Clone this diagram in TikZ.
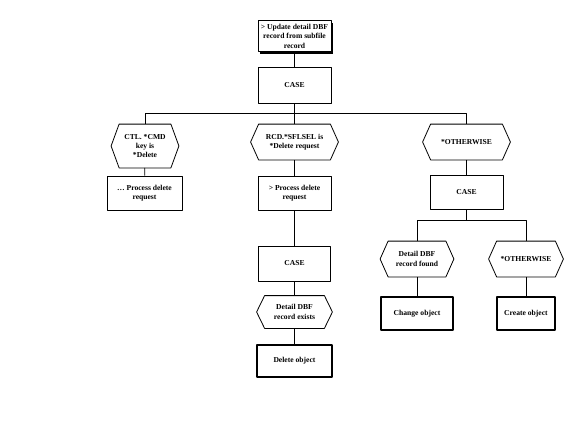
\documentclass[tikz,border=0pt]{standalone}
\usepackage{fontspec}
\setmainfont{Liberation Serif}
\usetikzlibrary{shadows}
\begin{document}
\begin{tikzpicture}[x=1pt,y=-1pt,line join=bevel,line width=0.8pt,
  every node/.style={font=\fontsize{7.6}{9.4}\selectfont\bfseries,align=center,inner sep=0pt},
  actbox/.style={draw,minimum width=#1,minimum height=34pt},
  objbox/.style={draw,line width=2.4pt,minimum width=#1,minimum height=32pt},
  condbox/.style={draw=none,minimum width=#1,minimum height=35pt},
  shadowbox/.style={draw,fill=white,minimum width=73pt,minimum height=31pt,
    drop shadow={shadow xshift=2pt,shadow yshift=-2pt,fill=black,opacity=1}}]
%%
  \useasboundingbox (0,0) rectangle (581,447);

  \node (node_0) at (294.5,36) [shadowbox] {> Update detail DBF\\record from subfile\\record};

  \node (node_1) at (294.5,85) [actbox=73pt,minimum height=36pt] {CASE};

  \node (node_2) at (145,146) [condbox=67pt,minimum height=43pt] {CTL. *CMD\\key is\\*Delete};
  \node (node_3) at (294.5,142) [condbox=87pt] {RCD.*SFLSEL is\\*Delete request};
  \node (node_4) at (466.5,142) [condbox=87pt] {*OTHERWISE};

  \node (node_5) at (144.5,193) [actbox=75pt] {\dots\ Process delete\\request};
  \node (node_6) at (294.5,193) [actbox=73pt] {> Process delete\\request};
  \node (node_7) at (466.5,192) [actbox=73pt] {CASE};

  \node (node_8) at (294.5,263.5) [actbox=72pt,minimum height=35pt] {CASE};
  \node (node_9) at (294.5,312) [condbox=75pt,minimum height=32pt] {Detail DBF\\record exists};
  \node (node_10) at (294.5,361) [objbox=75pt] {Delete object};

  \node (node_11) at (417,259) [condbox=73pt] {Detail DBF\\record found};
  \node (node_12) at (526,259) [condbox=74pt] {*OTHERWISE};

  \node (node_13) at (417,313.5) [objbox=72pt,minimum height=33pt] {Change object};
  \node (node_14) at (526,313.5) [objbox=58pt,minimum height=33pt] {Create object};

  \coordinate (split_1) at (294.5,113);
  \coordinate (split_2) at (466.5,220);

  % hexagons round the conditions
  \foreach \n in {node_2,node_3,node_4,node_9,node_11,node_12}
    \draw (\n.west) -- ([xshift=8pt]\n.north west) -- ([xshift=-8pt]\n.north east)
      -- (\n.east) -- ([xshift=-8pt]\n.south east) -- ([xshift=8pt]\n.south west) -- cycle;

  \draw (node_0) -- (node_1);
  \draw (node_1) -- (split_1);
  \draw (split_1) -| (node_2);
  \draw (split_1) -- (node_3);
  \draw (split_1) -| (node_4);
  \draw (node_2) -- (node_5);
  \draw (node_3) -- (node_6);
  \draw (node_4) -- (node_7);
  \draw (node_6) -- (node_8);
  \draw (node_8) -- (node_9);
  \draw (node_9) -- (node_10);
  \draw (node_7) -- (split_2);
  \draw (split_2) -| (node_11);
  \draw (split_2) -| (node_12);
  \draw (node_11) -- (node_13);
  \draw (node_12) -- (node_14);
%
\end{tikzpicture}
\end{document}
